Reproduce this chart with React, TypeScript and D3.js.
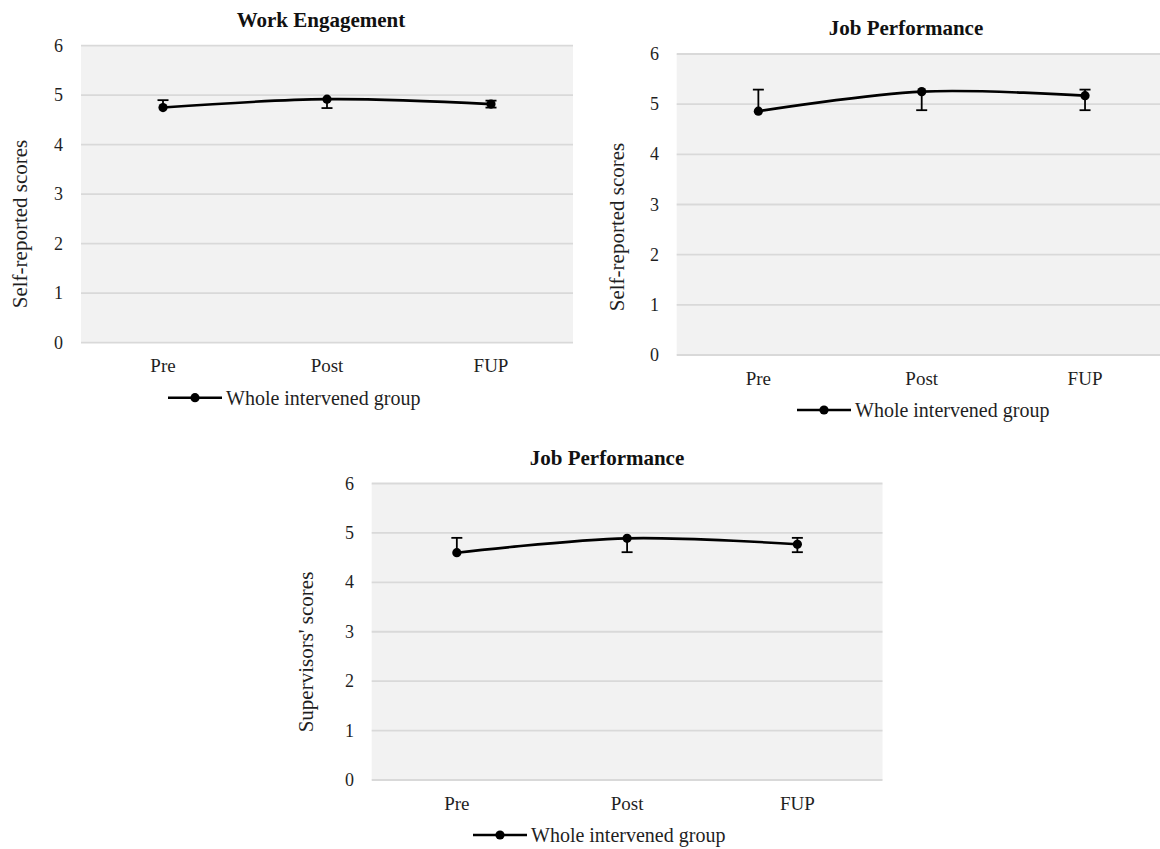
import React from "react";
import * as d3 from "d3";

// Measurement occasions and y-axis ticks shared by all three panels
const timePoints = ["Pre", "Post", "FUP"];
const yTicks = [0, 1, 2, 3, 4, 5, 6];
const seriesName = "Whole intervened group";

// Work engagement (self-reported)
const engagementMeans = [4.75, 4.92, 4.82];
const engagementErrUp = [0.15, 0, 0.07];
const engagementErrDown = [0, 0.18, 0.07];

// Job performance (self-reported)
const selfPerfMeans = [4.86, 5.25, 5.17];
const selfPerfErrUp = [0.43, 0, 0.12];
const selfPerfErrDown = [0, 0.37, 0.29];

// Job performance (supervisors)
const supPerfMeans = [4.6, 4.89, 4.77];
const supPerfErrUp = [0.3, 0, 0.13];
const supPerfErrDown = [0, 0.28, 0.16];

const FONT = "'Liberation Serif', 'Times New Roman', serif";
const TEXT = "#1f1f1f";

type PanelProps = {
  title: string;
  yTitle: string;
  means: number[];
  errUp: number[];
  errDown: number[];
  plot: { left: number; right: number; top: number; bottom: number };
  titlePos: [number, number];
  yTitlePos: [number, number];
  tickRight: number;
  legendX: number;
};

function Panel(p: PanelProps) {
  const x = d3
    .scaleBand<string>()
    .domain(timePoints)
    .range([p.plot.left, p.plot.right]);
  const y = d3.scaleLinear().domain([0, 6]).range([p.plot.bottom, p.plot.top]);
  const cx = (d: string) => (x(d) as number) + x.bandwidth() / 2;

  const pts: [number, number][] = timePoints.map((t, i) => [cx(t), y(p.means[i])]);
  const linePath = d3.line().curve(d3.curveCatmullRom.alpha(0.5))(pts) || "";

  const capHalf = 5.5;
  const legendY = p.plot.bottom + 55;

  return (
    <g>
      <rect
        x={p.plot.left}
        y={p.plot.top}
        width={p.plot.right - p.plot.left}
        height={p.plot.bottom - p.plot.top}
        fill="#f2f2f2"
      />
      {yTicks.map((t) => (
        <g key={t}>
          <line
            x1={p.plot.left}
            x2={p.plot.right}
            y1={y(t)}
            y2={y(t)}
            stroke="#d9d9d9"
            strokeWidth={1.8}
          />
          <text
            x={p.tickRight}
            y={y(t)}
            textAnchor="end"
            dominantBaseline="central"
            fontFamily={FONT}
            fontSize={18}
            fill={TEXT}
          >
            {t}
          </text>
        </g>
      ))}
      {timePoints.map((t) => (
        <text
          key={t}
          x={cx(t)}
          y={p.plot.bottom + 23}
          textAnchor="middle"
          dominantBaseline="central"
          fontFamily={FONT}
          fontSize={19}
          fill={TEXT}
        >
          {t}
        </text>
      ))}
      <text
        x={p.titlePos[0]}
        y={p.titlePos[1]}
        textAnchor="middle"
        dominantBaseline="central"
        fontFamily={FONT}
        fontWeight="bold"
        fontSize={21}
        fill="#111"
      >
        {p.title}
      </text>
      <text
        transform={`translate(${p.yTitlePos[0]},${p.yTitlePos[1]}) rotate(-90)`}
        textAnchor="middle"
        dominantBaseline="central"
        fontFamily={FONT}
        fontSize={21}
        fill={TEXT}
      >
        {p.yTitle}
      </text>

      {/* error bars */}
      {timePoints.map((t, i) => {
        const xc = cx(t);
        const m = p.means[i];
        const segs: JSX.Element[] = [];
        if (p.errUp[i] > 0) {
          const yt = y(m + p.errUp[i]);
          segs.push(
            <line key="u" x1={xc} x2={xc} y1={y(m)} y2={yt} stroke="#000" strokeWidth={1.8} />,
            <line key="uc" x1={xc - capHalf} x2={xc + capHalf} y1={yt} y2={yt} stroke="#000" strokeWidth={1.8} />
          );
        }
        if (p.errDown[i] > 0) {
          const yb = y(m - p.errDown[i]);
          segs.push(
            <line key="d" x1={xc} x2={xc} y1={y(m)} y2={yb} stroke="#000" strokeWidth={1.8} />,
            <line key="dc" x1={xc - capHalf} x2={xc + capHalf} y1={yb} y2={yb} stroke="#000" strokeWidth={1.8} />
          );
        }
        return <g key={t}>{segs}</g>;
      })}

      <path d={linePath} fill="none" stroke="#000" strokeWidth={2.6} />
      {pts.map(([px, py], i) => (
        <circle key={i} cx={px} cy={py} r={4.6} fill="#000" />
      ))}

      {/* legend */}
      <line x1={p.legendX} x2={p.legendX + 54} y1={legendY} y2={legendY} stroke="#000" strokeWidth={2.6} />
      <circle cx={p.legendX + 27} cy={legendY} r={4.6} fill="#000" />
      <text
        x={p.legendX + 58}
        y={legendY}
        dominantBaseline="central"
        fontFamily={FONT}
        fontSize={20}
        fill={TEXT}
      >
        {seriesName}
      </text>
    </g>
  );
}

export default function App() {
  return (
    <svg
      width={1160}
      height={849}
      style={{ position: "absolute", left: 0, top: 0, background: "#fff" }}
    >
      <Panel
        title="Work Engagement"
        yTitle="Self-reported scores"
        means={engagementMeans}
        errUp={engagementErrUp}
        errDown={engagementErrDown}
        plot={{ left: 81, right: 573, top: 45.7, bottom: 342.7 }}
        titlePos={[321, 20]}
        yTitlePos={[20, 224]}
        tickRight={63}
        legendX={168}
      />
      <Panel
        title="Job Performance"
        yTitle="Self-reported scores"
        means={selfPerfMeans}
        errUp={selfPerfErrUp}
        errDown={selfPerfErrDown}
        plot={{ left: 676.7, right: 1166.7, top: 54, bottom: 355 }}
        titlePos={[906, 28]}
        yTitlePos={[617, 227]}
        tickRight={659}
        legendX={797}
      />
      <Panel
        title="Job Performance"
        yTitle="Supervisors' scores"
        means={supPerfMeans}
        errUp={supPerfErrUp}
        errDown={supPerfErrDown}
        plot={{ left: 371.7, right: 882.5, top: 483.5, bottom: 780 }}
        titlePos={[607, 458]}
        yTitlePos={[306, 652]}
        tickRight={354}
        legendX={473}
      />
    </svg>
  );
}
